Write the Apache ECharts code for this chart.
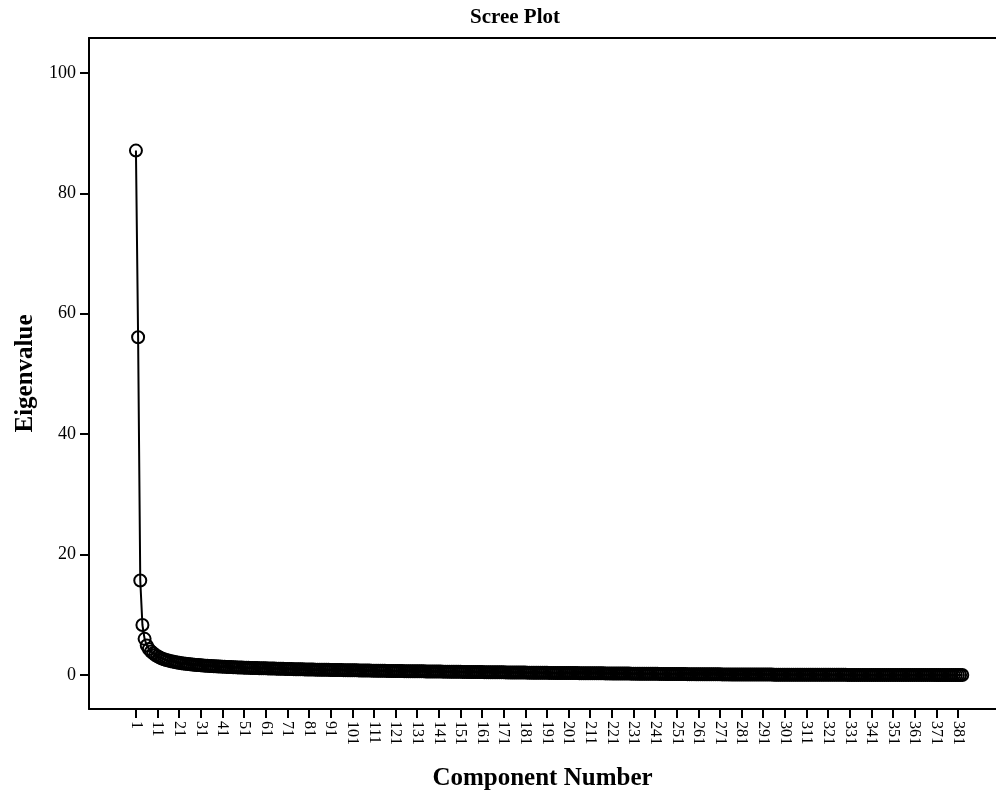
<!DOCTYPE html>
<html>
<head>
<meta charset="utf-8">
<script src="https://cdn.jsdelivr.net/npm/echarts@6/dist/echarts.min.js"></script>
<style>html,body{margin:0;padding:0;background:#fff}#c{width:996px;height:790px}</style>
</head>
<body>
<div id="c"></div>
<script>
const titleText = 'Scree Plot';
const xName = 'Component Number';
const yName = 'Eigenvalue';
const xTickValues = [1,11,21,31,41,51,61,71,81,91,101,111,121,131,141,151,161,171,181,191,201,211,221,231,241,251,261,271,281,291,301,311,321,331,341,351,361,371,381];
const yTickValues = [0,20,40,60,80,100];
const eigenvalues = [
87.1,56.1,15.7,8.3,6.0,4.9,4.3,3.9,3.6,3.3,
3.1,2.9,2.75,2.6,2.5,2.4,2.3,2.22,2.15,2.08,
2.02,1.96,1.91,1.86,1.82,1.78,1.74,1.70,1.67,1.64,
1.61,1.58,1.55,1.53,1.50,1.48,1.46,1.44,1.42,1.40,
1.38,1.36,1.34,1.33,1.31,1.29,1.28,1.26,1.25,1.23,
1.22,1.21,1.19,1.18,1.17,1.16,1.14,1.13,1.12,1.11,
1.10,1.09,1.08,1.07,1.06,1.05,1.04,1.03,1.02,1.01,
1.00,0.99,0.98,0.97,0.96,0.96,0.95,0.94,0.93,0.92,
0.92,0.91,0.90,0.89,0.89,0.88,0.87,0.86,0.86,0.85,
0.84,0.84,0.83,0.82,0.82,0.81,0.80,0.80,0.79,0.78,
0.78,0.77,0.77,0.76,0.75,0.75,0.74,0.74,0.73,0.72,
0.72,0.71,0.71,0.70,0.70,0.69,0.68,0.68,0.67,0.67,
0.66,0.66,0.65,0.65,0.64,0.64,0.63,0.63,0.62,0.62,
0.61,0.61,0.60,0.60,0.59,0.59,0.58,0.58,0.57,0.57,
0.56,0.56,0.55,0.55,0.55,0.54,0.54,0.53,0.53,0.52,
0.52,0.51,0.51,0.51,0.50,0.50,0.49,0.49,0.48,0.48,
0.48,0.47,0.47,0.46,0.46,0.46,0.45,0.45,0.44,0.44,
0.44,0.43,0.43,0.42,0.42,0.42,0.41,0.41,0.40,0.40,
0.40,0.39,0.39,0.38,0.38,0.38,0.37,0.37,0.37,0.36,
0.36,0.35,0.35,0.35,0.34,0.34,0.34,0.33,0.33,0.32,
0.32,0.32,0.31,0.31,0.31,0.30,0.30,0.30,0.29,0.29,
0.29,0.28,0.28,0.28,0.27,0.27,0.27,0.26,0.26,0.26,
0.25,0.25,0.25,0.24,0.24,0.24,0.23,0.23,0.23,0.22,
0.22,0.22,0.21,0.21,0.21,0.20,0.20,0.20,0.19,0.19,
0.19,0.19,0.18,0.18,0.18,0.17,0.17,0.17,0.16,0.16,
0.16,0.16,0.15,0.15,0.15,0.14,0.14,0.14,0.14,0.13,
0.13,0.13,0.13,0.12,0.12,0.12,0.12,0.11,0.11,0.11,
0.11,0.10,0.10,0.10,0.10,0.09,0.09,0.09,0.09,0.08,
0.08,0.08,0.08,0.08,0.07,0.07,0.07,0.07,0.07,0.06,
0.06,0.06,0.06,0.06,0.06,0.05,0.05,0.05,0.05,0.05,
0.05,0.04,0.04,0.04,0.04,0.04,0.04,0.04,0.03,0.03,
0.03,0.03,0.03,0.03,0.03,0.03,0.03,0.02,0.02,0.02,
0.02,0.02,0.02,0.02,0.02,0.02,0.02,0.02,0.02,0.01,
0.01,0.01,0.01,0.01,0.01,0.01,0.01,0.01,0.01,0.01,
0.01,0.01,0.01,0.01,0.01,0.01,0.01,0.01,0.01,0.01,
0.01,0.01,0.01,0.01,0.01,0.01,0.01,0.01,0.01,0.01,
0.01,0.01,0.01,0.01,0.01,0.01,0.01,0.01,0.01,0.01,
0.00,0.00,0.00,0.00,0.00,0.00,0.00,0.00,0.00,0.00,
0.00,0.00,0.00
];

const serif = '"Liberation Serif", "Times New Roman", serif';
const chart = echarts.init(document.getElementById('c'), null, {renderer: 'canvas'});
const seriesData = eigenvalues.map((v, i) => [i + 1, v]);

chart.setOption({
  animation: false,
  backgroundColor: '#fff',
  title: {
    text: titleText,
    left: 510, top: 2, textAlign: 'center',
    textStyle: {fontFamily: serif, fontWeight: 'bold', fontSize: 21, color: '#000'}
  },
  grid: {left: 89, top: 38, right: 0, bottom: 81, containLabel: false, outerBoundsMode: 'none'},
  xAxis: [{
    type: 'value', min: -20.7, max: 398.6,
    name: xName, nameLocation: 'middle', nameGap: 57,
    nameTextStyle: {fontFamily: serif, fontWeight: 'bold', fontSize: 25, color: '#000'},
    axisLine: {show: true, onZero: false, lineStyle: {color: '#000', width: 2}},
    axisTick: {show: true, customValues: xTickValues, length: 9, lineStyle: {color: '#000', width: 2}},
    axisLabel: {show: true, customValues: xTickValues, rotate: -90, margin: 12,
      fontFamily: serif, fontSize: 16, color: '#000'},
    splitLine: {show: false}
  }, {
    type: 'value', position: 'top', min: -20.7, max: 398.6,
    axisLine: {show: true, onZero: false, lineStyle: {color: '#000', width: 2}},
    axisTick: {show: false}, axisLabel: {show: false}, splitLine: {show: false}
  }],
  yAxis: {
    type: 'value', min: -5.65, max: 105.8,
    name: yName, nameLocation: 'middle', nameGap: 48,
    nameTextStyle: {fontFamily: serif, fontWeight: 'bold', fontSize: 25, color: '#000'},
    axisLine: {show: true, onZero: false, lineStyle: {color: '#000', width: 2}},
    axisTick: {show: true, customValues: yTickValues, length: 9, lineStyle: {color: '#000', width: 2}},
    axisLabel: {show: true, customValues: yTickValues, margin: 13,
      fontFamily: serif, fontSize: 18, color: '#000'},
    splitLine: {show: false}
  },
  series: [{
    type: 'line',
    data: seriesData,
    xAxisIndex: 0,
    symbol: 'circle', symbolSize: 12, showAllSymbol: true,
    lineStyle: {color: '#000', width: 2},
    itemStyle: {color: 'rgba(0,0,0,0)', borderColor: '#000', borderWidth: 2},
    z: 5
  }]
});
</script>
</body>
</html>
